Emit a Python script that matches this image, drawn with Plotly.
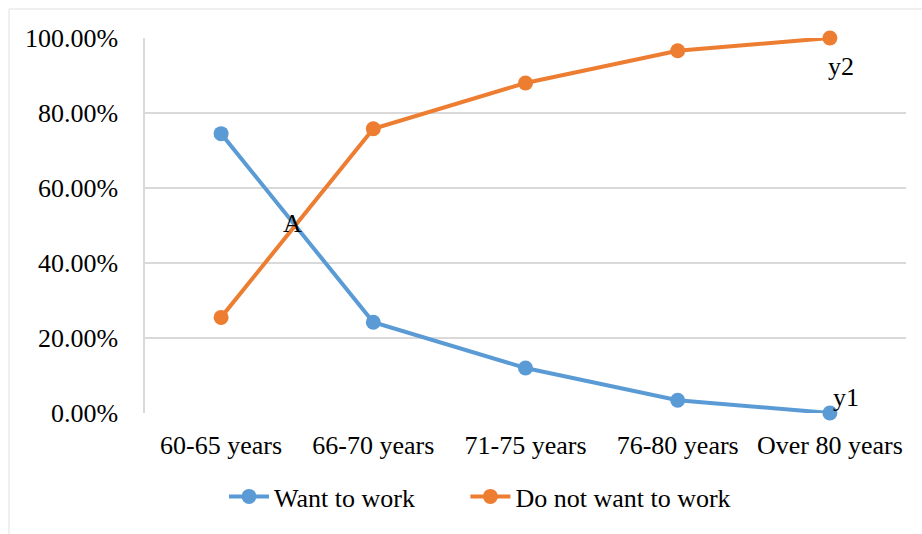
import plotly.graph_objects as go

categories = ["60-65 years", "66-70 years", "71-75 years", "76-80 years", "Over 80 years"]
want_to_work = [74.5, 24.2, 12.0, 3.4, 0.0]
not_want_to_work = [25.5, 75.8, 88.0, 96.6, 100.0]
series_names = ["Want to work", "Do not want to work"]
y_ticks = [0, 20, 40, 60, 80, 100]
y_tick_labels = ["0.00%", "20.00%", "40.00%", "60.00%", "80.00%", "100.00%"]

BLUE = "#5B9BD5"
ORANGE = "#ED7D31"
GRID = "#D9D9D9"
FONT = "Liberation Serif"

W, H = 922, 534
L, R, T, B = 145, 16, 38, 121
pw, ph = W - L - R, H - T - B

x_idx = list(range(len(categories)))
PAD = "\u00a0" * 7  # extra spacing between legend entries

fig = go.Figure()
fig.add_trace(go.Scatter(
    x=x_idx, y=want_to_work, name=series_names[0] + PAD, mode="lines+markers",
    line=dict(color=BLUE, width=4), marker=dict(color=BLUE, size=15),
    cliponaxis=False,
))
fig.add_trace(go.Scatter(
    x=x_idx, y=not_want_to_work, name=series_names[1], mode="lines+markers",
    line=dict(color=ORANGE, width=4), marker=dict(color=ORANGE, size=15),
    cliponaxis=False,
))

# intersection of the two lines between first two categories
d0 = want_to_work[0] - not_want_to_work[0]
d1 = want_to_work[1] - not_want_to_work[1]
t = d0 / (d0 - d1)
ix = x_idx[0] + t * (x_idx[1] - x_idx[0])
iy = want_to_work[0] + t * (want_to_work[1] - want_to_work[0])

fig.add_annotation(x=ix, y=iy, text="A", showarrow=False, xshift=-3, yshift=2,
                   font=dict(family=FONT, size=26, color="black"))
fig.add_annotation(x=x_idx[-1], y=not_want_to_work[-1], text="y2", showarrow=False,
                   xshift=11, yshift=-28, font=dict(family=FONT, size=26, color="black"))
fig.add_annotation(x=x_idx[-1], y=want_to_work[-1], text="y1", showarrow=False,
                   xshift=16, yshift=16, font=dict(family=FONT, size=26, color="black"))

# outer chart border (light gray)
bx = (9 - L) / pw
by = (H - B - 9) / ph
fig.add_shape(type="line", xref="paper", yref="paper", x0=bx, x1=bx, y0=-0.5, y1=by,
              line=dict(color="#EBEBEB", width=1.5))
fig.add_shape(type="line", xref="paper", yref="paper", x0=bx, x1=1.2, y0=by, y1=by,
              line=dict(color="#EBEBEB", width=1.5))

fig.update_layout(
    width=W, height=H,
    margin=dict(l=L, r=R, t=T, b=B, pad=0, autoexpand=False),
    paper_bgcolor="white", plot_bgcolor="white",
    font=dict(family=FONT, size=26, color="black"),
    showlegend=True,
    legend=dict(orientation="h", x=(224 - L) / pw, xanchor="left", y=-0.16, yanchor="top",
                font=dict(family=FONT, size=26, color="black"),
                itemwidth=40, tracegroupgap=0),
    xaxis=dict(
        tickmode="array", tickvals=x_idx, ticktext=categories,
        range=[-0.5, len(categories) - 0.5],
        showgrid=False, zeroline=False, showline=False, ticks="",
        tickfont=dict(family=FONT, size=26, color="black"),
        ticklabelstandoff=14,
    ),
    yaxis=dict(
        tickmode="array", tickvals=y_ticks, ticktext=y_tick_labels,
        range=[0, 100], showgrid=True, gridcolor=GRID, gridwidth=1.5,
        zeroline=False, showline=True, linecolor=GRID, linewidth=1.5, ticks="",
        tickfont=dict(family=FONT, size=26, color="black"),
        ticklabelstandoff=20,
    ),
)
fig.update_xaxes(fixedrange=True)
fig.update_yaxes(fixedrange=True)

fig.write_html("out.html")
